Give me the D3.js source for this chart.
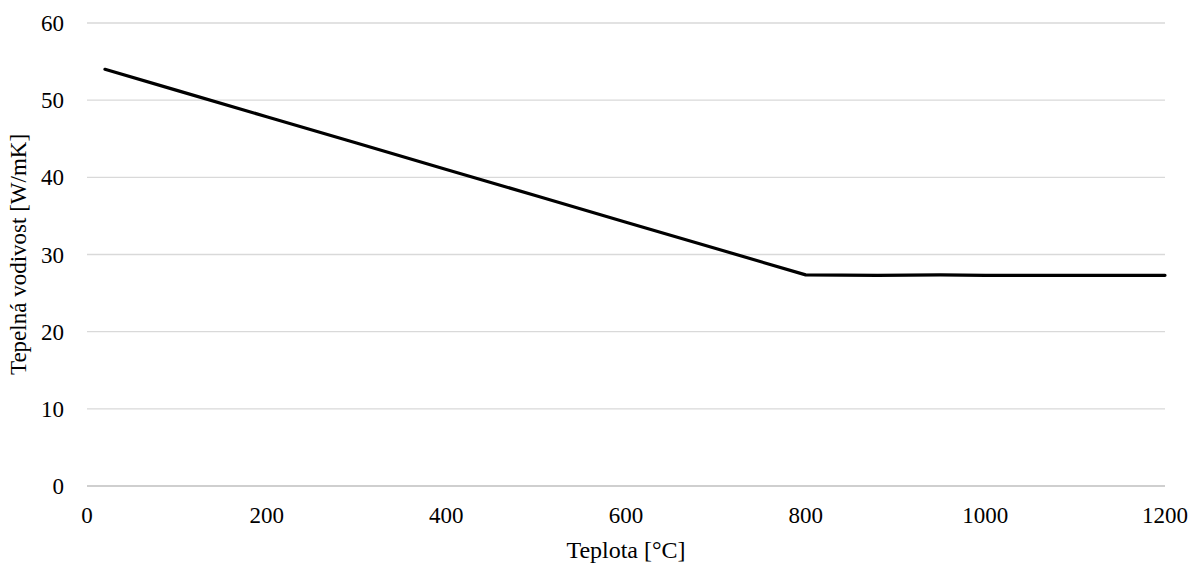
<!DOCTYPE html>
<html>
<head>
<meta charset="utf-8">
<script src="https://cdn.jsdelivr.net/npm/d3@7"></script>
<style>
  body { margin: 0; background: #fff; }
  text { font-family: "Liberation Serif", "DejaVu Serif", serif; fill: #000; }
</style>
</head>
<body>
<svg id="chart" width="1192" height="565"></svg>
<script>
// temperature [°C] and thermal conductivity [W/mK]
const temps = [20, 100, 200, 300, 400, 500, 600, 700, 800, 880, 950, 1000, 1100, 1200];
const lambda = [54, 51.27, 47.85, 44.44, 41.02, 37.61, 34.19, 30.78, 27.36, 27.3, 27.36, 27.3, 27.3, 27.3];
const xTicks = [0, 200, 400, 600, 800, 1000, 1200];
const yTicks = [0, 10, 20, 30, 40, 50, 60];

const svg = d3.select('#chart');
const plotL = 87, plotR = 1165, plotT = 23, plotB = 486;

const x = d3.scaleLinear().domain([0, 1200]).range([plotL, plotR]);
const y = d3.scaleLinear().domain([0, 60]).range([plotB, plotT]);

// gridlines
svg.selectAll('line.grid').data(yTicks).enter().append('line')
  .attr('class', 'grid')
  .attr('x1', plotL).attr('x2', plotR)
  .attr('y1', d => y(d)).attr('y2', d => y(d))
  .style('stroke', d => d === 0 ? '#bfbfbf' : '#d9d9d9')
  .style('stroke-width', 1.3);

// y tick labels
svg.selectAll('text.ytick').data(yTicks).enter().append('text')
  .attr('class', 'ytick')
  .attr('x', 64).attr('y', d => y(d) + 8)
  .attr('text-anchor', 'end')
  .style('font-size', '23px')
  .text(d => d);

// x tick labels
svg.selectAll('text.xtick').data(xTicks).enter().append('text')
  .attr('class', 'xtick')
  .attr('x', d => x(d)).attr('y', 523)
  .attr('text-anchor', 'middle')
  .style('font-size', '23px')
  .text(d => d);

// axis titles
svg.append('text')
  .attr('x', (plotL + plotR) / 2).attr('y', 558)
  .attr('text-anchor', 'middle')
  .style('font-size', '24px')
  .text('Teplota [°C]');

svg.append('text')
  .attr('transform', 'translate(26,' + ((plotT + plotB) / 2) + ') rotate(-90)')
  .attr('text-anchor', 'middle')
  .style('font-size', '23px')
  .text('Tepelná vodivost [W/mK]');

// series line
const line = d3.line().x((d, i) => x(temps[i])).y(d => y(d));
svg.append('path')
  .datum(lambda)
  .attr('d', line)
  .style('fill', 'none')
  .style('stroke', '#000')
  .style('stroke-width', 3.2)
  .style('stroke-linejoin', 'round')
  .style('stroke-linecap', 'round');
</script>
</body>
</html>
